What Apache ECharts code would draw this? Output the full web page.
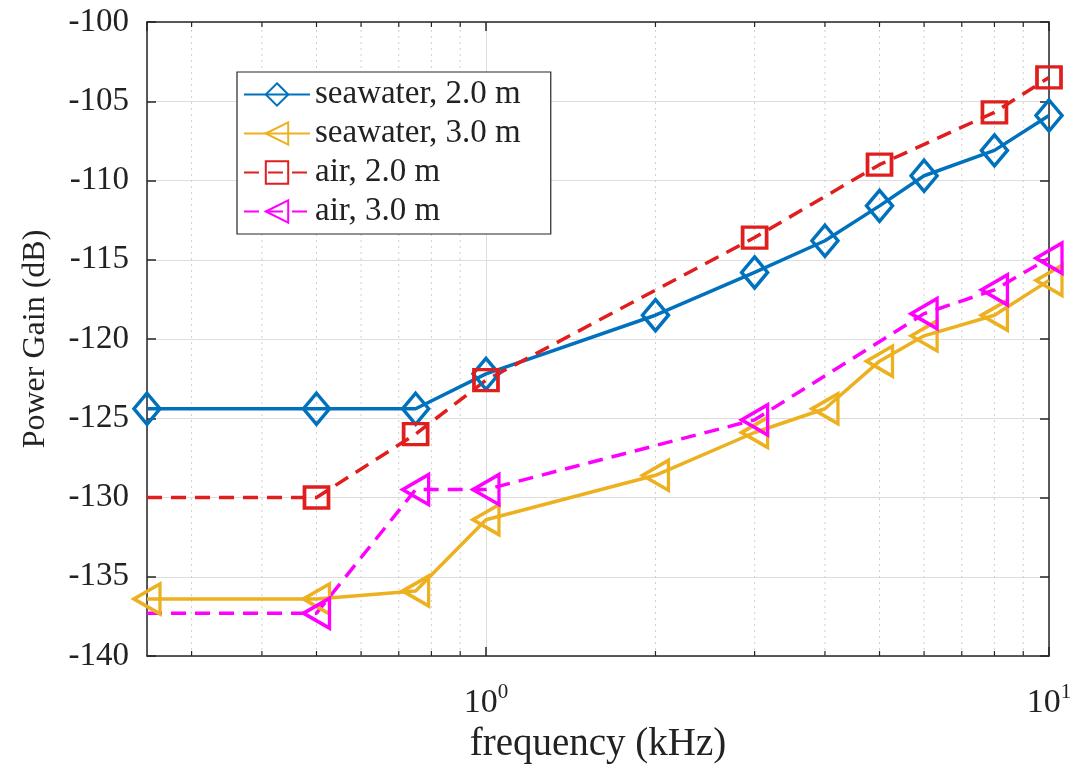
<!DOCTYPE html>
<html>
<head>
<meta charset="utf-8">
<script src="https://cdn.jsdelivr.net/npm/echarts@6/dist/echarts.min.js"></script>
<style>
html,body{margin:0;padding:0;background:#fff;}
#chart{width:1078px;height:772px;}
</style>
</head>
<body>
<div id="chart"></div>
<script>
// ---- data ----
const seriesNames = ['seawater, 2.0 m', 'seawater, 3.0 m', 'air, 2.0 m', 'air, 3.0 m'];
const sw2Freq = [0.25, 0.5, 0.75, 1, 2, 3, 4, 5, 6, 8, 10];
const sw2Gain = [-124.4, -124.4, -124.4, -122.2, -118.5, -115.8, -113.8, -111.6, -109.7, -108.1, -105.9];
const sw3Freq = [0.25, 0.5, 0.75, 1, 2, 3, 4, 5, 6, 8, 10];
const sw3Gain = [-136.4, -136.4, -135.9, -131.4, -128.6, -125.9, -124.4, -121.4, -119.8, -118.5, -116.3];
const air2Freq = [0.25, 0.5, 0.75, 1, 3, 5, 8, 10];
const air2Gain = [-130.0, -130.0, -126.0, -122.6, -113.6, -109.0, -105.7, -103.5];
const air3Freq = [0.25, 0.5, 0.75, 1, 3, 6, 8, 10];
const air3Gain = [-137.3, -137.3, -129.5, -129.5, -125.1, -118.4, -116.9, -114.9];
const minorFreqs = [0.3, 0.4, 0.5, 0.6, 0.7, 0.8, 0.9, 2, 3, 4, 5, 6, 7, 8, 9];
const xMin = 0.25, xMax = 10;
const yMin = -140, yMax = -100, yStep = 5;

const SERIF = '"Liberation Serif", "Times New Roman", serif';
const AXIS = '#262626';
const colors = ['#0072BD', '#EDB120', '#E01E1E', '#FF00FF'];

function pts(xs, ys, hideFirst) {
  return xs.map((x, i) => {
    const item = { value: [x, ys[i]] };
    if (hideFirst && i === 0) item.symbol = 'none';
    return item;
  });
}

function lineSeries(name, data, color, symbol, size, rotate, dashed) {
  return {
    name: name,
    type: 'line',
    data: data,
    symbol: symbol,
    symbolSize: size,
    symbolRotate: rotate,
    showAllSymbol: true,
    lineStyle: { color: color, width: 3.5, type: dashed ? [15, 9] : 'solid' },
    itemStyle: { color: 'rgba(255,255,255,0)', borderColor: color, borderWidth: 3.5 },
    emphasis: { disabled: true },
    z: 3,
    animation: false
  };
}

function supLabel(v) {
  if (Math.abs(v - 1) < 1e-6) return '{b|10}{s|0}';
  if (Math.abs(v - 10) < 1e-6) return '{b|10}{s|1}';
  return '';
}

const chart = echarts.init(document.getElementById('chart'));
chart.setOption({
  animation: false,
  backgroundColor: '#fff',
  grid: { left: 147, right: 29, top: 22, bottom: 116, containLabel: false },
  legend: {
    data: seriesNames,
    orient: 'vertical',
    left: 237,
    top: 72,
    backgroundColor: '#fff',
    borderColor: AXIS,
    borderWidth: 1.2,
    padding: [6, 30, 6, 6],
    itemGap: 6,
    itemWidth: 66,
    itemHeight: 28,
    textStyle: { fontFamily: SERIF, fontSize: 33, color: '#222' }
  },
  xAxis: [{
    type: 'log',
    logBase: 10,
    min: xMin,
    max: xMax,
    name: 'frequency (kHz)',
    nameLocation: 'middle',
    nameGap: 68,
    nameTextStyle: { fontFamily: SERIF, fontSize: 39, color: '#222' },
    axisLine: { show: true, onZero: false, lineStyle: { color: AXIS, width: 1.5 } },
    axisTick: { show: true, inside: true, length: 9, lineStyle: { color: AXIS, width: 1.5 } },
    axisLabel: {
      margin: 26,
      formatter: supLabel,
      showMinLabel: false,
      rich: {
        b: { fontFamily: SERIF, fontSize: 34, color: '#222', lineHeight: 38, verticalAlign: 'bottom' },
        s: { fontFamily: SERIF, fontSize: 21, color: '#222', lineHeight: 21, verticalAlign: 'top' }
      }
    },
    splitLine: { show: true, lineStyle: { color: '#dedede', width: 1 } },
    minorTick: { show: false },
    minorSplitLine: { show: false }
  }, {
    type: 'log',
    logBase: 10,
    min: xMin,
    max: xMax,
    position: 'top',
    axisLine: { show: true, onZero: false, lineStyle: { color: AXIS, width: 1.5 } },
    axisTick: { show: true, inside: true, length: 9, lineStyle: { color: AXIS, width: 1.5 } },
    axisLabel: { show: false },
    splitLine: { show: false }
  }],
  yAxis: [{
    type: 'value',
    min: yMin,
    max: yMax,
    interval: yStep,
    name: 'Power Gain (dB)',
    nameLocation: 'middle',
    nameGap: 95,
    nameTextStyle: { fontFamily: SERIF, fontSize: 32, color: '#222' },
    axisLine: { show: true, onZero: false, lineStyle: { color: AXIS, width: 1.5 } },
    axisTick: { show: true, inside: true, length: 9, lineStyle: { color: AXIS, width: 1.5 } },
    axisLabel: { fontFamily: SERIF, fontSize: 33, color: '#222', margin: 18 },
    splitLine: { show: true, lineStyle: { color: '#dedede', width: 1 } }
  }, {
    type: 'value',
    min: yMin,
    max: yMax,
    interval: yStep,
    position: 'right',
    axisLine: { show: true, onZero: false, lineStyle: { color: AXIS, width: 1.5 } },
    axisTick: { show: true, inside: true, length: 9, lineStyle: { color: AXIS, width: 1.5 } },
    axisLabel: { show: false },
    splitLine: { show: false }
  }],
  series: [
    {
      type: 'custom',
      name: 'minor',
      xAxisIndex: 0,
      yAxisIndex: 0,
      z: 1,
      silent: true,
      animation: false,
      data: minorFreqs.map(f => [f, yMin]),
      renderItem: function (params, api) {
        const x = api.value(0);
        const bot = api.coord([x, yMin]);
        const top = api.coord([x, yMax]);
        return {
          type: 'group',
          children: [
            { type: 'line', shape: { x1: bot[0], y1: bot[1], x2: top[0], y2: top[1] },
              style: { stroke: '#cfcfcf', lineWidth: 1, lineDash: [2, 4] } },
            { type: 'line', shape: { x1: bot[0], y1: bot[1], x2: bot[0], y2: bot[1] - 5 },
              style: { stroke: AXIS, lineWidth: 1.2 } },
            { type: 'line', shape: { x1: top[0], y1: top[1], x2: top[0], y2: top[1] + 5 },
              style: { stroke: AXIS, lineWidth: 1.2 } }
          ]
        };
      }
    },
    lineSeries(seriesNames[0], pts(sw2Freq, sw2Gain, false), colors[0], 'diamond', [26, 31], 0, false),
    lineSeries(seriesNames[1], pts(sw3Freq, sw3Gain, false), colors[1], 'triangle', [30, 26], 90, false),
    lineSeries(seriesNames[2], pts(air2Freq, air2Gain, true), colors[2], 'rect', [24, 21], 0, true),
    lineSeries(seriesNames[3], pts(air3Freq, air3Gain, true), colors[3], 'triangle', [30, 26], 90, true)
  ]
});
</script>
</body>
</html>
